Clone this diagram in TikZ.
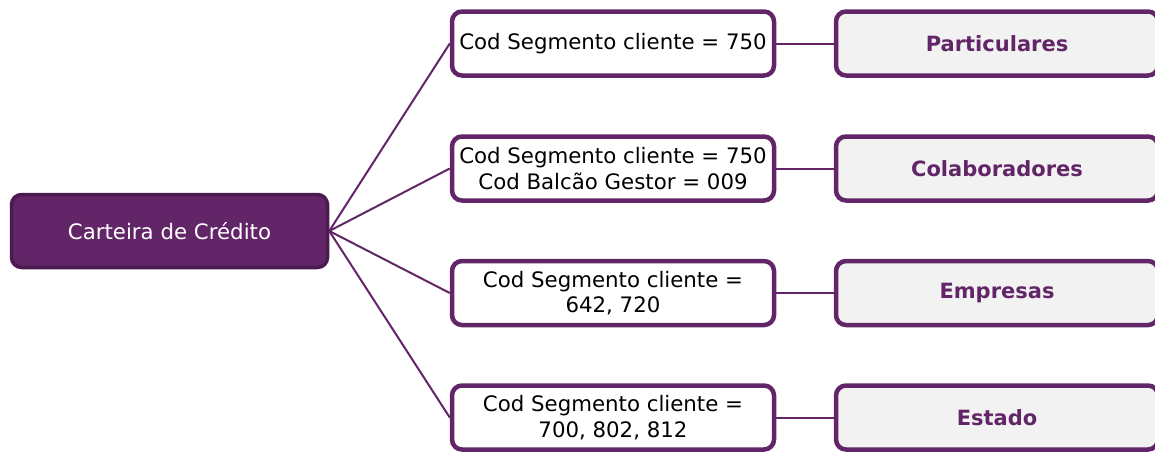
\documentclass[tikz,border=0pt]{standalone}
\usepackage{fontspec}
\setmainfont{DejaVu Sans}
\usepackage{tikz}
\definecolor{roxo}{HTML}{622567}
\definecolor{roxoesc}{HTML}{4B1A4E}
\definecolor{cinza}{HTML}{F2F2F2}

\begin{document}
\begin{tikzpicture}[x=1pt,y=-1pt]
    \tikzstyle{raiz}=[rectangle,rounded corners=10pt,draw=roxoesc,line width=3.5pt,fill=roxo,text=white,minimum width=316pt,minimum height=73pt,font=\fontsize{21.3}{26}\selectfont]
    \tikzstyle{regra}=[rectangle,rounded corners=10pt,draw=roxo,line width=4.5pt,fill=white,minimum width=322pt,minimum height=64pt,inner sep=0pt,align=center,font=\fontsize{21.3}{25.5}\selectfont]
    \tikzstyle{grupo}=[rectangle,rounded corners=10pt,draw=roxo,line width=4.5pt,fill=cinza,text=roxo,minimum width=322pt,minimum height=64pt,font=\bfseries\fontsize{21}{25}\selectfont]
    \tikzstyle{ligacao}=[draw=roxo,line width=2pt]
    \useasboundingbox (0,0) rectangle (1155,453);
    \node (cc)[raiz] at (169.5,231) {Carteira de Crédito};
    \node (r1)[regra] at (613,43.5) {Cod Segmento cliente = 750};
    \node (r2)[regra] at (613,168.5) {Cod Segmento cliente = 750\\Cod Balcão Gestor = 009};
    \node (r3)[regra] at (613,293) {Cod Segmento cliente =\\642, 720};
    \node (r4)[regra] at (613,417.5) {Cod Segmento cliente =\\700, 802, 812};
    \node (g1)[grupo] at (997,43.5) {Particulares};
    \node (g2)[grupo] at (997,168.5) {Colaboradores};
    \node (g3)[grupo] at (997,293) {Empresas};
    \node (g4)[grupo] at (997,417.5) {Estado};
    \foreach \i in {1,...,4} {
        \draw[ligacao] (cc.east) -- (r\i.west);
        \draw[ligacao] (r\i.east) -- (g\i.west);
    }
\end{tikzpicture}
\end{document}
